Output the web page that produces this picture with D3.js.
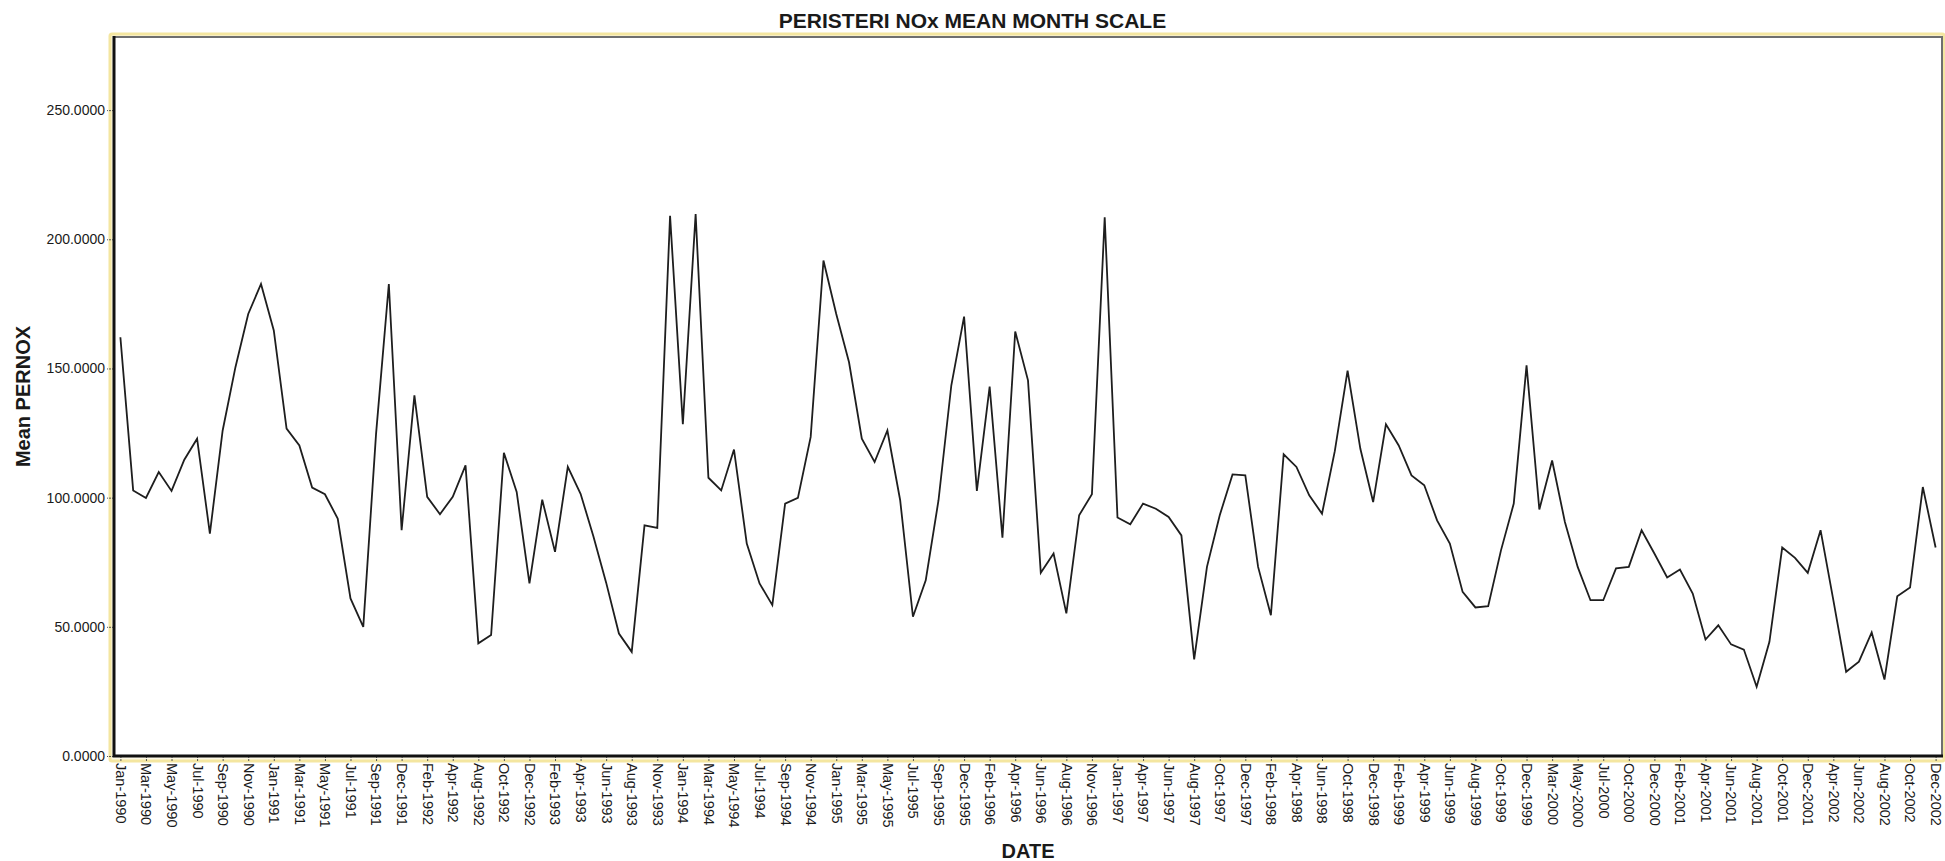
<!DOCTYPE html>
<html>
<head>
<meta charset="utf-8">
<script src="https://cdn.jsdelivr.net/npm/d3@7"></script>
<style>
  html, body { margin: 0; padding: 0; background: #fff; }
  svg { display: block; }
  text { font-family: "Liberation Sans", Arial, sans-serif; fill: #1a1a1a; }
</style>
</head>
<body>
<svg id="chart" width="1945" height="861"></svg>
<script>
const chartTitle = "PERISTERI NOx MEAN MONTH SCALE";
const xTitle = "DATE";
const yTitle = "Mean PERNOX";

const categories = [
  "Jan-1990","Feb-1990","Mar-1990","Apr-1990","May-1990","Jun-1990","Jul-1990","Aug-1990","Sep-1990","Oct-1990","Nov-1990","Dec-1990",
  "Jan-1991","Feb-1991","Mar-1991","Apr-1991","May-1991","Jun-1991","Jul-1991","Aug-1991","Sep-1991","Nov-1991","Dec-1991",
  "Jan-1992","Feb-1992","Mar-1992","Apr-1992","May-1992","Aug-1992","Sep-1992","Oct-1992","Nov-1992","Dec-1992",
  "Jan-1993","Feb-1993","Mar-1993","Apr-1993","May-1993","Jun-1993","Jul-1993","Aug-1993","Oct-1993","Nov-1993","Dec-1993",
  "Jan-1994","Feb-1994","Mar-1994","Apr-1994","May-1994","Jun-1994","Jul-1994","Aug-1994","Sep-1994","Oct-1994","Nov-1994","Dec-1994",
  "Jan-1995","Feb-1995","Mar-1995","Apr-1995","May-1995","Jun-1995","Jul-1995","Aug-1995","Sep-1995","Oct-1995","Dec-1995",
  "Jan-1996","Feb-1996","Mar-1996","Apr-1996","May-1996","Jun-1996","Jul-1996","Aug-1996","Oct-1996","Nov-1996","Dec-1996",
  "Jan-1997","Mar-1997","Apr-1997","May-1997","Jun-1997","Jul-1997","Aug-1997","Sep-1997","Oct-1997","Nov-1997","Dec-1997",
  "Jan-1998","Feb-1998","Mar-1998","Apr-1998","May-1998","Jun-1998","Aug-1998","Oct-1998","Nov-1998","Dec-1998",
  "Jan-1999","Feb-1999","Mar-1999","Apr-1999","May-1999","Jun-1999","Jul-1999","Aug-1999","Sep-1999","Oct-1999","Nov-1999","Dec-1999",
  "Feb-2000","Mar-2000","Apr-2000","May-2000","Jun-2000","Jul-2000","Sep-2000","Oct-2000","Nov-2000","Dec-2000",
  "Jan-2001","Feb-2001","Mar-2001","Apr-2001","May-2001","Jun-2001","Jul-2001","Aug-2001","Sep-2001","Oct-2001","Nov-2001","Dec-2001",
  "Feb-2002","Apr-2002","May-2002","Jun-2002","Jul-2002","Aug-2002","Sep-2002","Oct-2002","Nov-2002","Dec-2002"
];

const meanPernox = [
  162.1,102.8,99.9,109.9,102.6,114.7,122.8,86.1,126.0,150.5,171.1,182.7,
  164.7,126.7,120.2,103.9,101.3,91.9,61.0,50.0,124.7,182.7,87.4,
  139.6,100.3,93.6,100.3,112.5,43.6,46.8,117.4,102.2,66.8,
  99.2,79.0,111.9,101.5,85.1,67.1,47.4,40.3,89.3,88.3,209.1,
  128.4,209.8,107.7,102.8,118.6,82.2,66.8,58.4,97.7,99.9,123.5,191.8,
  171.1,152.4,122.8,113.8,126.0,99.0,53.9,68.0,99.0,143.4,170.1,
  102.6,143.0,84.5,164.3,145.4,70.9,78.4,55.2,93.2,101.3,208.5,
  92.3,89.7,97.7,95.7,92.5,85.4,37.4,73.2,93.2,109.0,108.6,
  73.2,54.5,116.8,111.9,100.9,93.8,118.0,149.2,118.9,98.3,
  128.4,120.2,108.6,104.8,91.2,82.2,63.5,57.5,58.0,79.6,97.7,151.2,
  95.4,114.4,90.6,73.2,60.3,60.3,72.6,73.2,87.4,78.4,
  69.1,72.2,62.9,45.1,50.6,43.2,41.2,26.8,44.2,80.7,76.7,70.9,
  87.4,60.3,32.6,36.5,47.8,29.6,61.8,65.2,104.1,80.7
];

const yTicks = [0, 50, 100, 150, 200, 250];
const yMax = 278.3;

const data = categories.map((c, i) => ({ cat: c, v: meanPernox[i] }));

const W = 1945, H = 861;
const plot = { left: 114, right: 1942, top: 37, bottom: 756 };

const svg = d3.select("#chart");

const x = d3.scalePoint().domain(categories).range([plot.left, plot.right]).padding(0.5);
const y = d3.scaleLinear().domain([0, yMax]).range([plot.bottom, plot.top]);

// yellow outer frame
svg.append("rect")
  .attr("x", plot.left - 4).attr("y", plot.top - 3)
  .attr("width", plot.right - plot.left + 6).attr("height", plot.bottom - plot.top + 8)
  .attr("fill", "#fdf8e6").attr("stroke", "#f4e6a0").attr("stroke-width", 3)
  .attr("rx", 2);

// plot background
svg.append("rect")
  .attr("x", plot.left).attr("y", plot.top)
  .attr("width", plot.right - plot.left).attr("height", plot.bottom - plot.top)
  .attr("fill", "#ffffff");

// top and right frame (gray)
svg.append("path")
  .attr("d", `M${plot.left},${plot.top}H${plot.right}V${plot.bottom}`)
  .attr("fill", "none").attr("stroke", "#6f6f6f").attr("stroke-width", 2);

// line
const line = d3.line().x(d => x(d.cat)).y(d => y(d.v));
svg.append("path")
  .datum(data)
  .attr("d", line)
  .attr("fill", "none")
  .attr("stroke", "#1e1e1e")
  .attr("stroke-width", 1.8)
  .attr("stroke-linejoin", "miter");

// y axis
const yAxis = d3.axisLeft(y).tickValues(yTicks).tickFormat(d3.format(".4f")).tickSize(7).tickPadding(2);
const gy = svg.append("g").attr("transform", `translate(${plot.left},0)`).call(yAxis);
gy.select(".domain").remove();
gy.selectAll(".tick line").attr("stroke", "#555").attr("stroke-dasharray", "2,1");
gy.selectAll(".tick text").style("font-size", "14px").style("font-family", "'Liberation Sans', Arial, sans-serif").attr("fill", "#1a1a1a");

// x axis
const xTickVals = categories.filter((d, i) => i % 2 === 0);
const xAxis = d3.axisBottom(x).tickValues(xTickVals).tickSize(6).tickSizeOuter(0);
const gx = svg.append("g").attr("transform", `translate(0,${plot.bottom})`).call(xAxis);
gx.select(".domain").remove();
gx.selectAll(".tick line").attr("stroke", "#555").attr("stroke-dasharray", "2,1");
gx.selectAll(".tick text")
  .style("font-size", "14.5px")
  .style("font-family", "'Liberation Sans', Arial, sans-serif")
  .attr("fill", "#1a1a1a")
  .attr("transform", "rotate(90)")
  .attr("x", 7).attr("y", 0).attr("dy", "0.35em")
  .style("text-anchor", "start");

// thick black left and bottom axis lines
svg.append("path")
  .attr("d", `M${plot.left},${plot.top - 1}V${plot.bottom}H${plot.right + 1}`)
  .attr("fill", "none").attr("stroke", "#111").attr("stroke-width", 3);

// titles
svg.append("text")
  .attr("x", W / 2).attr("y", 28)
  .attr("text-anchor", "middle")
  .style("font-size", "21px").style("font-weight", "bold")
  .text(chartTitle);

svg.append("text")
  .attr("x", (plot.left + plot.right) / 2).attr("y", 858)
  .attr("text-anchor", "middle")
  .style("font-size", "20px").style("font-weight", "bold")
  .text(xTitle);

svg.append("text")
  .attr("transform", `translate(30,${(plot.top + plot.bottom) / 2}) rotate(-90)`)
  .attr("text-anchor", "middle")
  .style("font-size", "20px").style("font-weight", "bold")
  .text(yTitle);
</script>
</body>
</html>
